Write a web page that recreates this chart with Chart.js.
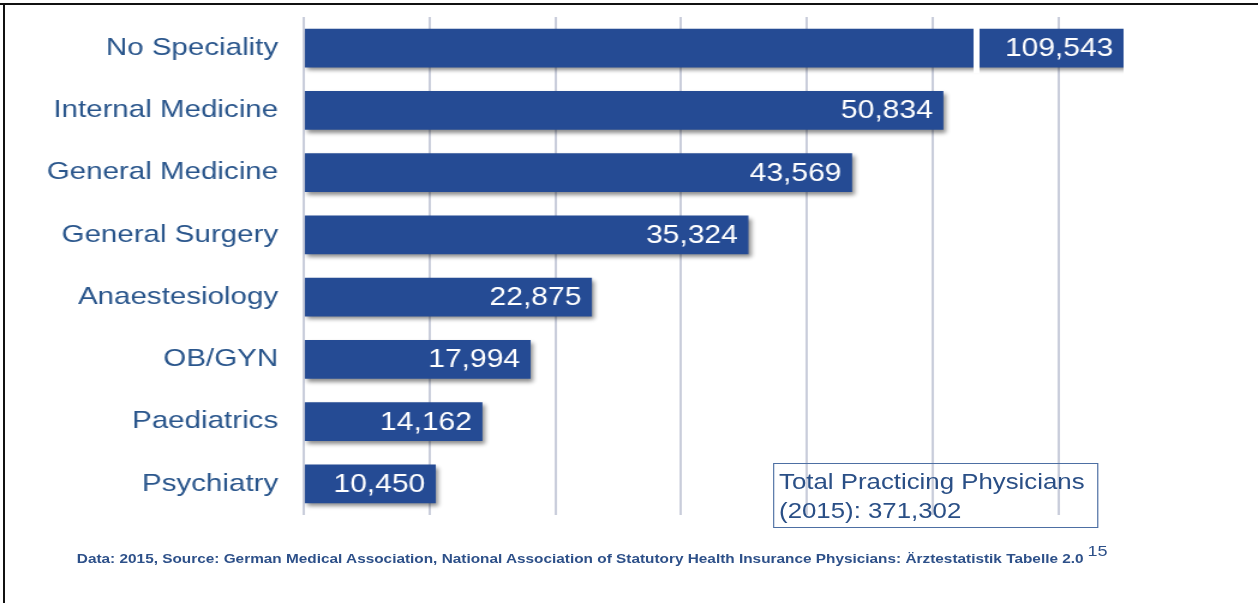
<!DOCTYPE html>
<html>
<head>
<meta charset="utf-8">
<script src="https://cdn.jsdelivr.net/npm/chart.js@4"></script>
<style>
  html, body { margin: 0; padding: 0; background: #fff; overflow: hidden; }
  body { width: 1258px; height: 603px; position: relative; font-family: "Liberation Sans", Arial, sans-serif; }
  /* the slide is stretched horizontally, so draw narrow and scale */
  #wrap { position: absolute; left: 0; top: 0; width: 1048px; height: 603px; transform: scaleX(1.2004); transform-origin: 0 0; }
  #chart { position: absolute; left: 0; top: 0; }
  .edge-top { position: absolute; left: 0; top: 3px; width: 1258px; height: 2px; background: #111; }
  .edge-left { position: absolute; left: 3px; top: 3px; width: 2px; height: 600px; background: #111; }
  #total { position: absolute; left: 644px; top: 463px; width: 271px; height: 65px; box-sizing: border-box;
    border: 1.5px solid #4d6fa3; padding: 4px 0 0 4px; color: #2a4f86; font-size: 21.5px; line-height: 29px; white-space: nowrap; }
  #source { position: absolute; left: 64px; top: 551px; color: #2d5089; font-size: 12.8px; font-weight: bold; line-height: 15px; white-space: nowrap; }
  #page { position: absolute; left: 906px; top: 543px; color: #2d5089; font-size: 15px; line-height: 15px; }
</style>
</head>
<body>
<div class="edge-top"></div>
<div class="edge-left"></div>
<div id="wrap">
  <canvas id="chart" width="1048" height="603"></canvas>
  <div id="total"></div>
  <div id="source"></div>
  <div id="page"></div>
</div>
<script>
// Physicians by speciality, 2015
const categories = ["No Speciality", "Internal Medicine", "General Medicine", "General Surgery",
  "Anaestesiology", "OB/GYN", "Paediatrics", "Psychiatry"]
const physicians = [109543, 50834, 43569, 35324, 22875, 17994, 14162, 10450]
const gridTicks = [0, 10000, 20000, 30000, 40000, 50000, 60000]
const totalPhysicians = 371302
const totalYear = 2015
const sourceText = "Data: 2015, Source: German Medical Association, National Association of Statutory Health Insurance Physicians: Ärztestatistik Tabelle 2.0"
const pageNumber = "15"

// axis is cut; the longest bar gets a break mark
const axisMax = 65200
const breakAt = 53500

const barColor = "#254b94"
const labelColor = "#2a568c"

const fmt = (v) => v.toLocaleString("en-US")

document.getElementById("total").innerHTML =
  "Total Practicing Physicians<br>(" + totalYear + "): " + fmt(totalPhysicians)
document.getElementById("source").textContent = sourceText
document.getElementById("page").textContent = pageNumber

// soft shadow under the bars
const barShadow = {
  id: "barShadow",
  beforeDatasetDraw(chart) {
    const c = chart.ctx
    c.save()
    c.shadowColor = "rgba(0, 0, 0, 0.45)"
    c.shadowBlur = 4
    c.shadowOffsetX = 2
    c.shadowOffsetY = 3
  },
  afterDatasetDraw(chart) {
    chart.ctx.restore()
  },
}

// break mark + value labels inside the bar ends
const barLabels = {
  id: "barLabels",
  afterDatasetsDraw(chart) {
    const c = chart.ctx
    const x = chart.scales.x
    const area = chart.chartArea
    const meta = chart.getDatasetMeta(0)
    c.save()
    meta.data.forEach((bar, i) => {
      if (physicians[i] > axisMax) {
        const bx = x.getPixelForValue(breakAt)
        c.fillStyle = "#fff"
        c.fillRect(bx - 2.5, bar.y - bar.height / 2 - 2, 5, bar.height + 8)
      }
      const right = Math.min(bar.x, area.right)
      c.fillStyle = "#fff"
      c.font = "25px 'Liberation Sans', Arial, sans-serif"
      c.textAlign = "right"
      c.textBaseline = "middle"
      c.fillText(fmt(physicians[i]), right - 8.5, bar.y + 1)
    })
    c.restore()
  },
}

const ctx = document.getElementById("chart").getContext("2d")
new Chart(ctx, {
  type: "bar",
  data: {
    labels: categories,
    datasets: [
      {
        data: physicians,
        backgroundColor: barColor,
        barThickness: 38,
        borderWidth: 0,
      },
    ],
  },
  options: {
    indexAxis: "y",
    responsive: false,
    animation: false,
    layout: { padding: { top: 17, bottom: 88, right: 112, left: 0 } },
    plugins: {
      legend: { display: false },
      tooltip: { enabled: false },
    },
    scales: {
      x: {
        min: 0,
        max: axisMax,
        ticks: { display: false },
        grid: { color: "#c9cddb", lineWidth: 2, drawTicks: false },
        border: { display: false },
        afterBuildTicks(scale) {
          scale.ticks = gridTicks.map((v) => ({ value: v }))
        },
        afterFit(scale) {
          scale.height = 0
          scale.paddingLeft = scale.paddingRight = 0
        },
      },
      y: {
        grid: { display: false, drawTicks: false },
        border: { display: false },
        ticks: {
          color: labelColor,
          padding: 21.6,
          font: { family: "'Liberation Sans', Arial, sans-serif", size: 24.6 },
        },
        afterFit(scale) {
          scale.width = 253.3
          scale.paddingTop = scale.paddingBottom = 0
        },
      },
    },
  },
  plugins: [barShadow, barLabels],
})
</script>
</body>
</html>
